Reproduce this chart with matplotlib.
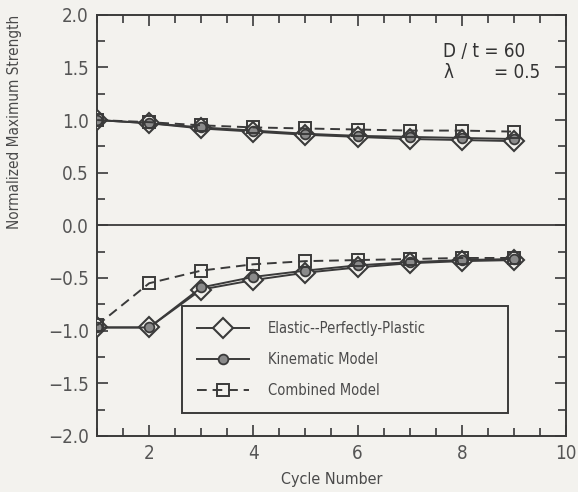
import matplotlib
matplotlib.use("Agg")
import matplotlib.pyplot as plt
from matplotlib.ticker import MultipleLocator, FixedLocator, FuncFormatter

plt.rcParams['font.family'] = ['DejaVu Sans']
plt.rcParams['font.stretch'] = 'condensed'

cycles = [1, 2, 3, 4, 5, 6, 7, 8, 9]
epp_pos = [1.00, 0.97, 0.92, 0.89, 0.86, 0.84, 0.82, 0.81, 0.80]
kin_pos = [1.00, 0.97, 0.93, 0.90, 0.87, 0.85, 0.84, 0.83, 0.82]
comb_pos = [1.00, 0.98, 0.95, 0.93, 0.92, 0.91, 0.90, 0.90, 0.89]
epp_neg = [-0.97, -0.97, -0.61, -0.52, -0.45, -0.40, -0.36, -0.34, -0.33]
kin_neg = [-0.97, -0.97, -0.59, -0.49, -0.43, -0.38, -0.35, -0.33, -0.32]
comb_neg = [-0.95, -0.55, -0.43, -0.37, -0.34, -0.33, -0.32, -0.31, -0.31]

labels = ["Elastic--Perfectly-Plastic", "Kinematic Model", "Combined Model"]

ink = '#3a3a3a'
bg = '#f3f2ee'
txt = '#4a4a4a'

fig = plt.figure(figsize=(5.78, 4.92), dpi=100, facecolor=bg)
ax = fig.add_axes([0.168, 0.114, 0.811, 0.856], facecolor=bg)

ax.axhline(0, color=ink, lw=1.3, zorder=1)

sty_epp = dict(color=ink, lw=1.4, ls='-', marker='D', markersize=10,
               mfc=bg, mec=ink, mew=1.5)
sty_kin = dict(color=ink, lw=1.4, ls='-', marker='o', markersize=7,
               mfc='#8a8a8a', mec=ink, mew=1.3)
sty_comb = dict(color=ink, lw=1.4, ls=(0, (5, 3)), marker='s', markersize=8,
                mfc='none', mec=ink, mew=1.4)

h1, = ax.plot(cycles, epp_pos, label=labels[0], zorder=3, **sty_epp)
ax.plot(cycles, epp_neg, zorder=3, **sty_epp)
h2, = ax.plot(cycles, kin_pos, label=labels[1], zorder=4, **sty_kin)
ax.plot(cycles, kin_neg, zorder=4, **sty_kin)
h3, = ax.plot(cycles, comb_pos, label=labels[2], zorder=5, **sty_comb)
ax.plot(cycles, comb_neg, zorder=5, **sty_comb)

ax.set_xlim(1, 10)
ax.set_ylim(-2.0, 2.0)
ax.xaxis.set_major_locator(FixedLocator([2, 4, 6, 8, 10]))
ax.xaxis.set_minor_locator(MultipleLocator(0.5))
ax.yaxis.set_major_locator(MultipleLocator(0.5))
ax.yaxis.set_minor_locator(MultipleLocator(0.25))
ax.yaxis.set_major_formatter(FuncFormatter(lambda v, p: f"{v:.1f}".replace('-', '\u2212')))
ax.tick_params(which='both', direction='in', top=True, right=True,
               color=ink, width=1.2, labelsize=13.5, labelcolor='#555555', pad=6)
ax.tick_params(which='major', length=8)
ax.tick_params(which='minor', length=6)
for s in ax.spines.values():
    s.set_color(ink)
    s.set_linewidth(1.4)

ax.set_xlabel("Cycle Number", fontsize=11.5, color=txt, labelpad=6)
ax.set_ylabel("Normalized Maximum Strength", fontsize=11, color=txt)
ax.yaxis.set_label_coords(-0.16, 0.745)

ax.text(0.738, 0.912, "D / t = 60", transform=ax.transAxes, fontsize=13.5,
        color='#333333', ha='left', va='center')
ax.text(0.738, 0.862, "λ", transform=ax.transAxes, fontsize=13.5,
        color='#333333', ha='left', va='center')
ax.text(0.945, 0.862, "= 0.5", transform=ax.transAxes, fontsize=13.5,
        color='#333333', ha='right', va='center')

leg = ax.legend(handles=[h1, h2, h3], loc='lower left',
                bbox_to_anchor=(0.181, 0.055, 0.695, 0.25), mode='expand',
                fontsize=10.5, frameon=True, fancybox=False, edgecolor=ink,
                facecolor=bg, framealpha=1, handlelength=3.6, borderpad=1.0,
                labelspacing=1.1, handletextpad=1.3, borderaxespad=0)
leg.get_frame().set_linewidth(1.4)
for t in leg.get_texts():
    t.set_color(txt)

fig.savefig("out.png", dpi=100, facecolor=bg)
